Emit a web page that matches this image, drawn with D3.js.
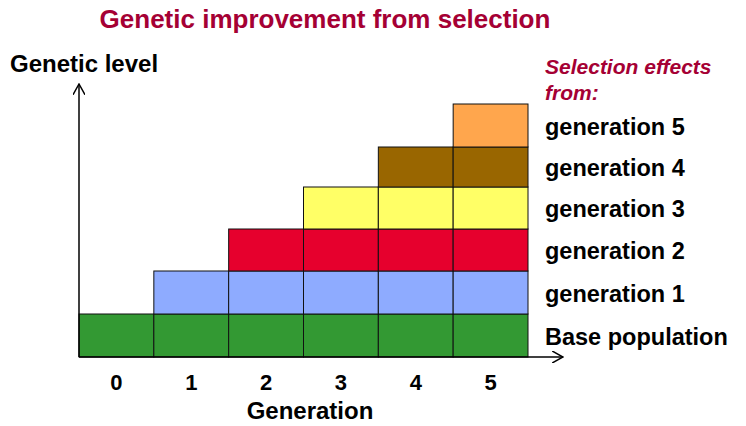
<!DOCTYPE html>
<html>
<head>
<meta charset="utf-8">
<script src="https://cdn.jsdelivr.net/npm/d3@7/dist/d3.min.js"></script>
<style>
  body { margin: 0; background: #fff; }
  text { font-family: "Liberation Sans", Arial, sans-serif; font-weight: bold; }
</style>
</head>
<body>
<div id="chart"></div>
<script>
// generations on the x axis
const generations = [0, 1, 2, 3, 4, 5];
// selection effect layers, bottom to top
const effects = ["Base population", "generation 1", "generation 2", "generation 3", "generation 4", "generation 5"];
// size of each layer (genetic level units)
const effectSize = [43, 43, 42, 42, 40, 43];
// generation from which each layer is present
const effectStart = [0, 1, 2, 3, 4, 5];
const effectColors = ["#339933", "#8eabff", "#e6002d", "#ffff66", "#996600", "#ffa64d"];

const width = 746, height = 426;
const svg = d3.select("#chart").append("svg")
  .attr("width", width)
  .attr("height", height);

const x = d3.scaleBand().domain(generations).range([79, 528]).padding(0);
const y = d3.scaleLinear().domain([0, 269]).range([357, 88]);

// cumulative bottoms for each layer
const bottoms = [];
effectSize.reduce((acc, v, i) => { bottoms[i] = acc; return acc + v; }, 0);

const cells = [];
effects.forEach((e, i) => {
  generations.forEach((g) => {
    if (g >= effectStart[i]) cells.push({ layer: i, gen: g });
  });
});

svg.append("g")
  .selectAll("rect")
  .data(cells)
  .join("rect")
  .attr("x", (d) => x(d.gen))
  .attr("y", (d) => y(bottoms[d.layer] + effectSize[d.layer]))
  .attr("width", x.bandwidth())
  .attr("height", (d) => y(bottoms[d.layer]) - y(bottoms[d.layer] + effectSize[d.layer]))
  .attr("fill", (d) => effectColors[d.layer])
  .attr("stroke", "#111")
  .attr("stroke-width", 1);

// axes with arrow heads
svg.append("defs").append("marker")
  .attr("id", "arrow")
  .attr("viewBox", "0 0 10 10")
  .attr("refX", 9).attr("refY", 5)
  .attr("markerWidth", 8).attr("markerHeight", 8)
  .attr("orient", "auto")
  .append("path")
  .attr("d", "M0,0 L9,5 L0,10")
  .attr("fill", "none")
  .attr("stroke", "#000")
  .attr("stroke-width", 1.2);

svg.append("line")
  .attr("x1", 79).attr("y1", y(0)).attr("x2", 79).attr("y2", 84)
  .attr("stroke", "#000").attr("stroke-width", 1.5)
  .attr("marker-end", "url(#arrow)");
svg.append("line")
  .attr("x1", 79).attr("y1", y(0)).attr("x2", 563).attr("y2", y(0))
  .attr("stroke", "#000").attr("stroke-width", 1.5)
  .attr("marker-end", "url(#arrow)");

// x tick labels
svg.append("g")
  .selectAll("text")
  .data(generations)
  .join("text")
  .attr("x", (d) => x(d) + x.bandwidth() / 2)
  .attr("y", 390)
  .attr("text-anchor", "middle")
  .style("font-size", "22px")
  .text((d) => d);

svg.append("text")
  .attr("x", 310).attr("y", 419)
  .attr("text-anchor", "middle")
  .style("font-size", "24px")
  .text("Generation");

svg.append("text")
  .attr("x", 10).attr("y", 72)
  .style("font-size", "24px")
  .text("Genetic level");

svg.append("text")
  .attr("x", 325).attr("y", 28)
  .attr("text-anchor", "middle")
  .attr("fill", "#a50034")
  .style("font-size", "26px")
  .text("Genetic improvement from selection");

const legTitle = svg.append("text")
  .attr("x", 545).attr("y", 74)
  .attr("fill", "#a50034")
  .style("font-size", "21px")
  .style("font-style", "italic");
legTitle.append("tspan").attr("x", 545).text("Selection effects");
legTitle.append("tspan").attr("x", 545).attr("dy", 26).text("from:");

// layer labels centred on each layer
svg.append("g")
  .selectAll("text")
  .data(effects)
  .join("text")
  .attr("x", 545)
  .attr("y", (d, i) => y(bottoms[i] + effectSize[i] / 2))
  .attr("dy", "0.4em")
  .style("font-size", "23.5px")
  .text((d) => d);
</script>
</body>
</html>
